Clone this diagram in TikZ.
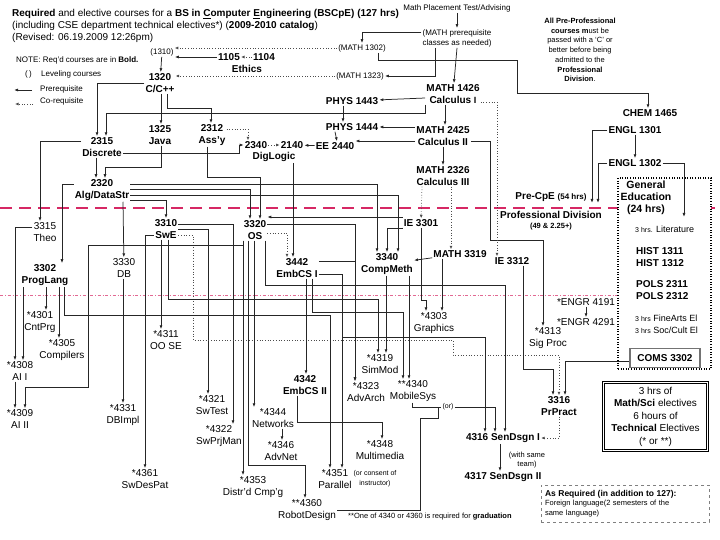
\documentclass[tikz,border=0pt]{standalone}
\usepackage{fontspec}
\setmainfont{Liberation Sans}
\usetikzlibrary{arrows.meta, positioning}
\definecolor{divred}{RGB}{214,40,100}

\begin{document}
\begin{tikzpicture}[x=1pt, y=-1pt,
    crs/.style={font=\bfseries\fontsize{10}{12}\selectfont, align=center, inner sep=1pt},
    ele/.style={font=\fontsize{10}{12}\selectfont, align=center, inner sep=1pt},
    lvl/.style={font=\fontsize{8}{10}\selectfont, align=center, inner sep=1pt},
    arr/.style={-{Latex[length=4pt,width=3pt]}, line width=0.75pt, black!85},
    coarr/.style={-{Latex[length=3.5pt,width=3pt]}, dotted, line width=0.7pt, black!70},
    ln/.style={line width=0.75pt, black!85}
  ]
  \useasboundingbox (0,0) rectangle (720,540);

  % title and legend
  \node[anchor=west, font=\fontsize{10}{11}\selectfont, inner sep=0pt] (title1) at (12,14)
    {\textbf{Required} and elective courses for a \textbf{BS in \underline{C}omputer \underline{E}ngineering (BSCpE) (127 hrs)}};
  \node[anchor=west, font=\fontsize{10}{11}\selectfont, inner sep=0pt] (title2) at (12,26)
    {(including CSE department technical electives*) (\textbf{2009-2010 catalog})};
  \node[anchor=west, font=\fontsize{10}{11}\selectfont, inner sep=0pt] (title3) at (12,38)
    {(Revised: 06.19.2009 12:26pm)};
  \node[anchor=west, font=\fontsize{8}{9}\selectfont, inner sep=0pt] (note) at (16,60)
    {NOTE: Req'd courses are in \textbf{Bold.}};
  \node[anchor=west, font=\fontsize{8}{9}\selectfont, inner sep=0pt] (lgpar) at (25,74) {(\,)};
  \node[anchor=west, font=\fontsize{8}{9}\selectfont, inner sep=0pt] (lglev) at (41,74) {Leveling courses};
  \node[anchor=west, font=\fontsize{8}{9}\selectfont, inner sep=0pt] (lgpre) at (40,89) {Prerequisite};
  \node[anchor=west, font=\fontsize{8}{9}\selectfont, inner sep=0pt] (lgco) at (40,101) {Co-requisite};
  \coordinate (lgpa) at (32,90);
  \coordinate (lgca) at (33,104);
  \draw[arr] (lgpa) -- ++(-18,0);
  \draw[coarr] (lgca) -- ++(-18,0);

  % leveling and first year
  \node[lvl] (mpt) at (457,8) {Math Placement Test/Advising};
  \node[lvl] (mpre) at (457,38) {(MATH prerequisite\\classes as needed)};
  \node[lvl] (m1302) at (362,48) {(MATH 1302)};
  \node[lvl] (m1323) at (360,76) {(MATH 1323)};
  \node[lvl] (c1310) at (162,52) {(1310)};
  \node[crs] (c1105) at (229,57) {1105};
  \node[crs] (c1104) at (264,57) {1104};
  \node[crs] (ethics) at (247,69) {Ethics};
  \node[crs] (c1320) at (160,83) {1320\\C/C++};
  \node[crs] (c1325) at (160,135) {1325\\Java};
  \node[crs] (c2312) at (212,135) {2312\\Ass'y};
  \node[crs] (c2315) at (102,147) {2315\\Discrete};
  \node[crs] (c2340) at (256,145) {2340};
  \node[crs] (c2140) at (292,145) {2140};
  \node[crs] (diglog) at (274,157) {DigLogic};
  \node[crs] (ee2440) at (335,146) {EE 2440};
  \node[crs] (ph1443) at (352,101) {PHYS 1443};
  \node[crs] (ph1444) at (352,127) {PHYS 1444};
  \node[crs] (m1426) at (453,94) {MATH 1426\\Calculus \small I};
  \node[crs] (m2425) at (443,136) {MATH 2425\\Calculus II};
  \node[crs] (m2326) at (443,176) {MATH 2326\\Calculus III};
  \node[crs] (chem) at (650,113) {CHEM 1465};
  \node[crs] (en1301) at (635,130) {ENGL 1301};
  \node[crs] (en1302) at (635,163) {ENGL 1302};
  \node[font=\fontsize{7.5}{9.7}\selectfont, align=center, inner sep=0pt] (ppnote) at (580,50)
    {\textbf{All Pre-Professional}\\\textbf{courses m}ust be\\passed with a `C' or\\better before being\\admitted to the\\\textbf{Professional}\\\textbf{Division}.};

  % division lines
  \draw[divred, line width=1.4pt, dash pattern=on 12pt off 7pt] (0,208) -- (720,208);
  \draw[divred!70, line width=0.5pt, dash dot] (0,295) -- (618,295);
  \node[crs] (precpe) at (551,197) {Pre-CpE {\fontsize{8}{9}\selectfont(54 hrs)}};
  \node[crs, fill=white] (profdiv) at (551,221) {Professional Division\\[-2pt]{\fontsize{7.5}{9}\selectfont (49 \& 2.25+)}};

  % general education
  \node[draw, fill=white, line width=1.1pt, dash pattern=on 1pt off 1.6pt,
    minimum width=93pt, minimum height=191pt, inner sep=0pt] (genbox) at (664.5,273.5) {};
  \node[crs, font=\bfseries\fontsize{10.5}{12}\selectfont] (gened) at (646,198) {General\\Education\\(24 hrs)};
  \node[anchor=west, inner sep=0pt, font=\fontsize{9}{11}\selectfont] (lit) at (635,229) {{\fontsize{7}{9}\selectfont 3 hrs.} Literature};
  \node[crs, anchor=west, align=left] (hist) at (635,257) {HIST 1311\\HIST 1312};
  \node[crs, anchor=west, align=left] (pols) at (635,290) {POLS 2311\\POLS 2312};
  \node[anchor=west, inner sep=0pt, font=\fontsize{9}{11}\selectfont] (fine) at (635,318) {{\fontsize{7}{9}\selectfont 3 hrs} FineArts El};
  \node[anchor=west, inner sep=0pt, font=\fontsize{9}{11}\selectfont] (soc) at (635,330) {{\fontsize{7}{9}\selectfont 3 hrs} Soc/Cult El};
  \node[crs, draw=black!55, fill=white, line width=1.6pt, minimum width=70pt, minimum height=19pt] (coms) at (665,358) {COMS 3302};

  % sophomore and junior
  \node[crs] (c2320) at (102,190) {2320\\Alg/DataStr};
  \node[ele] (c3315) at (45,232) {3315\\Theo};
  \node[crs] (c3302) at (45,275) {3302\\ProgLang};
  \node[ele] (c3330) at (124,268) {3330\\DB};
  \node[crs] (c3310) at (166,229) {3310\\SwE};
  \node[crs] (c3320) at (255,230) {3320\\OS};
  \node[crs] (c3442) at (297,268) {3442\\EmbCS I};
  \node[crs] (ie3301) at (421,223) {IE 3301};
  \node[crs] (c3340) at (387,264) {3340\\CompMeth};
  \node[crs] (m3319) at (460,254) {MATH 3319};
  \node[crs] (ie3312) at (512,261) {IE 3312};

  % senior and electives
  \node[ele] (c4301) at (40,322) {*4301\\CntPrg};
  \node[ele] (c4305) at (62,350) {*4305\\Compilers};
  \node[ele] (c4308) at (20,371) {*4308\\AI I};
  \node[ele] (c4309) at (20,419) {*4309\\AI II};
  \node[ele] (c4311) at (166,340) {*4311\\OO SE};
  \node[ele] (c4321) at (212,405) {*4321\\SwTest};
  \node[ele] (c4322) at (219,436) {*4322\\SwPrjMan};
  \node[ele] (c4331) at (123,415) {*4331\\DBImpl};
  \node[ele] (c4361) at (145,479) {*4361\\SwDesPat};
  \node[ele] (c4353) at (253,487) {*4353\\Distr'd Cmp'g};
  \node[ele] (c4344) at (273,418) {*4344\\Networks};
  \node[ele] (c4346) at (281,451) {*4346\\AdvNet};
  \node[ele] (c4348) at (380,450) {*4348\\Multimedia};
  \node[ele] (c4351) at (335,479) {*4351\\Parallel};
  \node[font=\fontsize{7}{10}\selectfont\rmfamily, align=center, inner sep=0pt] (consent) at (375,479) {(or consent of\\instructor)};
  \node[ele] (c4360) at (307,510) {**4360\\RobotDesign};
  \node[crs] (c4342) at (305,385) {4342\\EmbCS II};
  \node[ele] (c4319) at (380,364) {*4319\\SimMod};
  \node[ele] (c4323) at (366,392) {*4323\\AdvArch};
  \node[ele] (c4340) at (413,391) {**4340\\MobileSys};
  \node[ele] (c4303) at (434,323) {*4303\\Graphics};
  \node[ele] (c4313) at (548,338) {*4313\\Sig Proc};
  \node[ele] (en4191) at (586,302) {*ENGR 4191};
  \node[ele] (en4291) at (586,322) {*ENGR 4291};
  \node[crs] (c3316) at (559,406) {3316\\PrPract};
  \node[crs] (c4316) at (503,438) {4316 SenDsgn I};
  \node[crs] (c4317) at (503,477) {4317 SenDsgn II};
  \node[font=\fontsize{7.5}{9}\selectfont, align=center, inner sep=0pt] (same) at (527,460) {(with same\\team)};
  \node[font=\fontsize{7}{9}\selectfont, inner sep=1pt, fill=white] (orlbl) at (448,407) {(or)};

  \node[draw, double, double distance=1.5pt, line width=0.9pt, minimum width=104pt, minimum height=68pt,
    font=\fontsize{10}{12.5}\selectfont, align=center] (msbox) at (655.5,416.5)
    {3 hrs of\\\textbf{Math/Sci} electives\\6 hours of\\\textbf{Technical} Electives\\(* or **)};
  \node[draw=black!50, dashed, line width=0.8pt, minimum width=168pt, minimum height=37pt,
    text width=160pt, align=left, font=\fontsize{7.5}{9.5}\selectfont] (asreq) at (625,503.5)
    {{\fontsize{8.5}{10}\selectfont\textbf{As Required (in addition to 127):}}\\Foreign language(2 semesters of the\\same language)};
  \node[anchor=west, font=\fontsize{7.5}{9}\selectfont, inner sep=0pt] (foot) at (348,517)
    {**One of 4340 or 4360 is required for \textbf{graduation}};

  % leveling connectors
  \draw[arr] (mpt) -- (mpre);
  \draw[arr] (mpre.west |- 0,32) -| (m1302);
  \draw[arr] (mpre.south -| 435,0) |- (m1323);
  \draw[arr] (mpre.south) -- (m1426);
  \draw[arr] (m1302.south -| 378,0) |- (517,60) |- (648,93) -- (chem.north -| 648,0);
  \draw[coarr] (m1302.west) -- (c1310.east |- m1302.west);
  \draw[arr] (c1105.west) -- (c1310.east |- c1105.west);
  \draw[coarr] (c1104) -- (c1105);
  \draw[arr] (c1310) -- (c1320);
  \draw[coarr] (m1323) -- (c1320.east |- m1323);

  % freshman connectors
  \draw[arr] (c1320.west) -| ([xshift=-5pt]c2315.north);
  \draw[arr] (m1426.south west) |- (106,113) -- ([xshift=4pt]c2315.north);
  \draw[arr] ([xshift=1pt]c1320.south) -- ([xshift=1pt]c1325.north);
  \draw[arr] ([xshift=7pt]c1320.south) |- (211,108) -- (c2312.north -| 211,0);
  \draw[arr] (m1426.west |- 0,98) -- (ph1443);
  \draw[arr] ([xshift=-9pt]ph1443.south) -- ([xshift=-9pt]ph1444.north);
  \draw[arr] ([xshift=-8pt]m1426.south) -- ([xshift=2pt]m2425.north);
  \draw[arr] (m2425.west |- 0,127) -- (ph1444);
  \draw[arr] ([xshift=-17pt]ph1444.south) -- (ee2440.north -| 337,0);
  \draw[arr] (m2425.west |- 0,141) -- (ee2440.east |- 0,141);
  \draw[arr] (ee2440) -- (c2140);
  \draw[coarr] (c2340) -- (c2140);
  \draw[coarr] (c2312.east |- 0,129) -| ([xshift=-8pt]c2340.north);
  \draw[arr] (c2315.east |- 0,153) -| (239,145) -- (c2340.west);
  \draw[arr] (m2425) -- (m2326);
  \draw[arr] (en1301) -- (en1302);
  \draw[arr] (en1301.west) -| (592,203) coordinate (pc1);
  \draw[arr] (en1302.west) -| (598,203) coordinate (pc2);
  \draw[arr] (en1302.east) -| (684,217) coordinate (litin);

  % sophomore connectors
  \draw[arr] ([xshift=-6pt]c2315.south) -- ([xshift=-6pt]c2320.north);
  \draw[arr] ([xshift=1pt]c1325.south) |- (105,167) -- ([xshift=3pt]c2320.north);
  \draw[arr] (c2315.west |- 0,141) -| (c3315.north -| 40,0);
  \draw[arr] ([xshift=-5pt]c2312.south) |- (260,177) -- ([xshift=5pt]c3320.north);
  \draw[arr] (c2320.west |- 0,184) -| (c3302.north -| 62,0);
  \draw[arr] ([xshift=21pt]c2320.south) -- (c3330);
  \draw[arr] (c2320.east |- 0,200) -| (c3310);
  \draw[arr] (c2320.east |- 0,184) -| (c3340.north -| 377,0);
  \draw[arr] (c2320.east |- 0,189) -| ([xshift=-5pt]c3320.north);
  \draw[arr] (c2320.east |- 0,195) -| (c3340.north -| 398,0);
  \draw[arr] ([xshift=19pt]diglog.south) -- (c3442.north -| 293,0);
  \draw[coarr] (c3320.east |- 0,233) -| (c3442.north -| 287,0);
  \draw[arr] (ie3301.west |- 0,217) -- (c3320.north east |- 0,217);
  \draw[arr] (ie3301.south west) |- (387,228) -- (c3340.north -| 387,0);
  \draw[coarr] (m2326.south -| 422,0) -- (ie3301);
  \draw[coarr] (m2326.south -| 451,0) -- (m3319.north -| 451,0);
  \draw[arr] (m3319) -- (c3340);
  \draw[ln] (m2425.east |- 0,141) -| (490,240) coordinate (sp1);
  \draw[arr] (sp1) -| (c4313.north -| 543,0);
  \draw[coarr] (m1426.east |- 0,102) -| (ie3312.north -| 497,0);

  % junior and senior connectors
  \draw[arr] (c3310.east |- 0,224) -| (c4322.north -| 233,0);
  \draw[arr] (c3310.east |- 0,229) -| (c4321.north -| 208,0);
  \draw[coarr] (c3310.east |- 0,235) -| (193,340) -| (453,355) -| (c3316.north -| 559,0);
  \draw[arr] (c3310.south -| 161,0) -- (c4311.north -| 161,0);
  \draw[arr] (c3310.south -| 168,0) |- (378,299) -- (c4319.north -| 378,0);
  \draw[arr] (c3310.west |- 0,235) -| (c4361.north -| 145,0);
  \draw[arr] (c3302.south -| 46,0) -- (c4301.north -| 46,0);
  \draw[arr] (c3302.south -| 59,0) -- (c4305.north -| 59,0);
  \draw[arr] (c3302.south -| 64,0) |- (330,315) -- (c4351.north -| 330,0);
  \draw[arr] (c3302.south -| 23,0) -- (c4308.north -| 23,0);
  \draw[arr] (c3315.west |- 0,227) -| (c4308.north -| 15,0);
  \draw[arr] (c4308.south -| 15,0) -- (c4309.north -| 15,0);
  \draw[arr] (c3330.south -| 123,0) -- (c4331.north -| 123,0);
  \draw[arr] (c3320.south -| 243,0) |- (88,245) |- (25,387) -- (c4309.north -| 25,0);
  \draw[arr] (c3320.south -| 243,0) -- (c4353.north -| 243,0);
  \draw[arr] (c3320.south -| 248,0) |- (305,465) -- (c4360.north -| 305,0);
  \draw[arr] (c3320.south -| 254,0) -- (c4344.north -| 254,0);
  \draw[arr] (c3320.south -| 265,0) |- (505,285) -- (c4316.north -| 505,0);
  \draw[arr] (c3320.east |- 0,224) -| (c4323.north -| 355,0);
  \draw[arr] (c3442.east |- 0,261) -| (c4323.north -| 355,0);
  \draw[arr] (c3442.south -| 306,0) -- (c4342.north -| 306,0);
  \draw[arr] (c3442.east |- 0,274) -| (342,337) -| (c4316.north -| 485,0);
  \draw[arr] (c3442.east |- 0,274) -| (c4351.north -| 342,0);
  \draw[arr] (c3442.south -| 312,0) |- (403,312) -- (c4340.north -| 403,0);
  \draw[arr] (c3340.south -| 386,0) -- (c4319.north -| 386,0);
  \draw[arr] (c3340.south -| 409,0) -- (c4340.north -| 409,0);
  \draw[arr] (ie3301.south) |- (426,300) -- (c4303.north -| 426,0);
  \draw[arr] (m3319.south -| 442,0) -- (c4303.north -| 442,0);
  \draw[arr] (c4342.south -| 297,0) |- (382,422) -- (c4348.north -| 382,0);
  \draw[arr] (c4344.south -| 282,0) -- (c4346.north -| 282,0);
  \draw[ln] (c4340.south -| 412,0) |- (orlbl.west);
  \draw[ln] (c4360.east) -| (420,418) -| (438,407);
  \draw[arr] (orlbl.east) -| (c4316.north -| 495,0);
  \draw[arr] (ie3312.south -| 523,0) |- (553,369) -- (c3316.north -| 553,0);
  \draw[arr] (en4191) -- (en4291);
  \draw[arr] (coms.west |- 0,361) -| (c3316.north -| 565,0);
  \draw[coarr] (c3316.south) |- (c4316.east);
  \draw[arr] (c4316.south -| 500,0) -- (c4317.north -| 500,0);
\end{tikzpicture}
\end{document}
